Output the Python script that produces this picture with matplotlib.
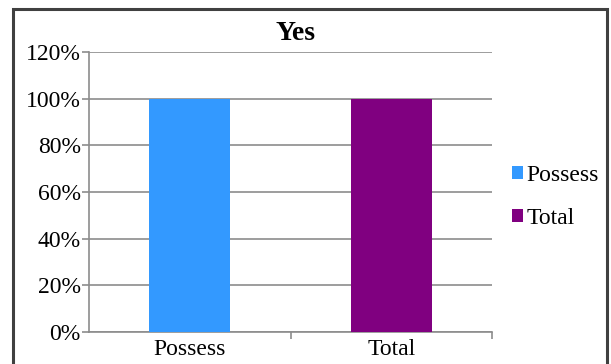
import matplotlib
matplotlib.use("Agg")
import matplotlib.pyplot as plt
from matplotlib.patches import Patch, Rectangle
from matplotlib.ticker import PercentFormatter, MultipleLocator, FixedLocator

categories = ["Possess", "Total"]
values = [1.0, 1.0]
colors = ["#3399FF", "#800080"]
title = "Yes"

plt.rcParams["font.family"] = ["Liberation Serif", "DejaVu Serif"]

W, H = 611, 364
fig = plt.figure(figsize=(W / 100, H / 100), dpi=100)

# Outer chart frame
fig.patches.append(Rectangle((13 / W, -0.05), (607 - 13) / W, 1.05 - 9 / H,
                             transform=fig.transFigure, fill=False,
                             edgecolor="#404040", linewidth=2.2))

ax = fig.add_axes([89 / W, 1 - 332 / H, (492 - 89) / W, (332 - 52) / H])
x = list(range(len(categories)))
ax.bar(x, values, width=0.4, color=colors, zorder=3)

ax.set_xlim(-0.5, len(categories) - 0.5)
ax.set_ylim(0, 1.2)
ax.yaxis.set_major_locator(MultipleLocator(0.2))
ax.yaxis.set_major_formatter(PercentFormatter(1.0, decimals=0))
ax.grid(axis="y", color="#8c8c8c", linewidth=1.2, zorder=0)

ax.set_xticks(x)
ax.set_xticklabels(categories)
ax.tick_params(axis="x", which="major", length=0, labelsize=17, pad=5)
ax.xaxis.set_minor_locator(FixedLocator([i + 0.5 for i in range(len(categories))]))
ax.tick_params(axis="x", which="minor", length=5, color="#8c8c8c", width=1.2)
ax.tick_params(axis="y", length=5, color="#8c8c8c", width=1.2, labelsize=17, pad=1)

for side in ("top", "right"):
    ax.spines[side].set_visible(False)
for side in ("left", "bottom"):
    ax.spines[side].set_color("#8c8c8c")
    ax.spines[side].set_linewidth(1.2)

fig.text(295 / W, 1 - 34 / H, title, ha="center", va="center",
         fontsize=20, fontweight="bold")

handles = [Patch(facecolor=c, edgecolor="none", label=l) for c, l in zip(colors, categories)]
fig.legend(handles=handles, loc="center left", bbox_to_anchor=(512 / W, 1 - 197 / H),
           frameon=False, fontsize=17, handlelength=0.45, handleheight=0.45,
           handletextpad=0.15, labelspacing=0.95, borderpad=0, borderaxespad=0)

fig.savefig("out.png", dpi=100)
